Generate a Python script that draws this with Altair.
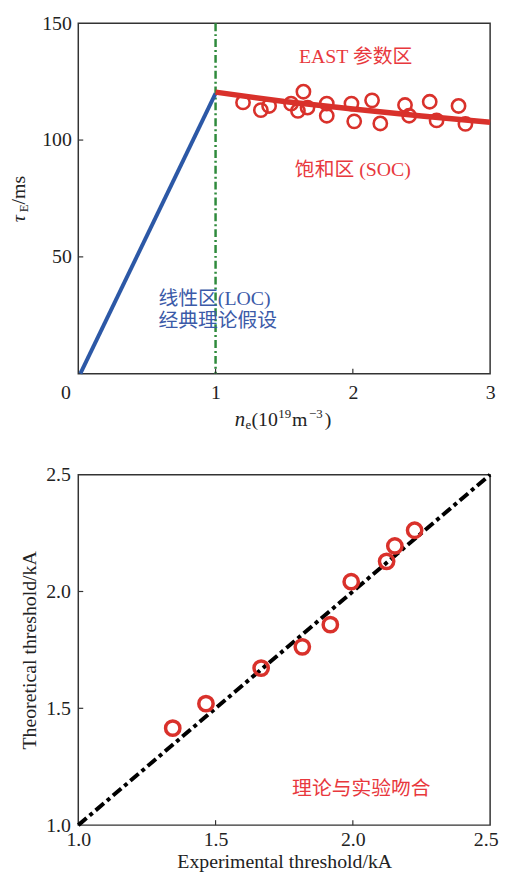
import altair as alt
import pandas as pd

# ---------------- data ----------------
# top panel
lin_n = [0.015, 1.0]
lin_tau = [0.0, 120.0]
fit_n = [1.0, 1.5, 2.0, 2.5, 3.0]
fit_tau = [120.5, 116.5, 113.3, 110.3, 107.6]
east_n = [1.20, 1.33, 1.39, 1.55, 1.64, 1.60, 1.67, 1.81, 1.81, 1.99,
          2.01, 2.14, 2.20, 2.38, 2.41, 2.56, 2.61, 2.77, 2.82]
east_tau = [116.1, 112.8, 114.6, 115.6, 120.7, 112.5, 113.9, 115.6, 110.4, 115.6,
            108.0, 117.0, 107.1, 115.0, 110.4, 116.4, 108.4, 114.6, 106.9]
boundary_n = [1.0]
top_x_ticks = [0, 1, 2, 3]
top_y_ticks = [50, 100, 150]
top_x_inner = [1, 2]
top_y_inner = [50, 100]

# bottom panel
exp_thr = [1.344, 1.465, 1.666, 1.816, 1.918, 1.994, 2.123, 2.153, 2.225]
theo_thr = [1.415, 1.520, 1.672, 1.763, 1.858, 2.042, 2.129, 2.195, 2.262]
diag = [1.0, 2.5]
bot_ticks = [1.0, 1.5, 2.0, 2.5]
bot_inner = [1.5, 2.0]

SERIF = "Liberation Serif"
FONT = "Liberation Serif, Noto Sans CJK SC"
RED = "#d9312b"
RED_TXT = "#e8383d"
BLUE = "#2c58a6"
BLUE_TXT = "#3b5aa8"
GREEN = "#2f8a3c"
INK = "#222222"

W, H = 416, 354

LAB = dict(labelFont=SERIF, labelFontSize=20, labelColor=INK, labelFlush=False,
           labelOverlap=False, ticks=False, domain=False, grid=False)

# ---------------- top panel ----------------
xs = alt.Scale(domain=[0, 3], nice=False, zero=False)
ys = alt.Scale(domain=[0, 150], nice=False)

xax = alt.Axis(values=top_x_ticks, format="d", title=None, labelPadding=9,
               labelAlign={"condition": {"test": "datum.value == 0", "value": "right"}, "value": "center"},
               labelOffset={"condition": {"test": "datum.value == 0", "value": -8}, "value": 0},
               **LAB)
yax = alt.Axis(values=top_y_ticks, format="d", title=None, labelPadding=7, **LAB)

lin_df = pd.DataFrame({"n": lin_n, "tau": lin_tau})
fit_df = pd.DataFrame({"n": fit_n, "tau": fit_tau})
east_df = pd.DataFrame({"n": east_n, "tau": east_tau})

blue_line = alt.Chart(lin_df).mark_line(color=BLUE, strokeWidth=4).encode(
    x=alt.X("n:Q", scale=xs, axis=xax), y=alt.Y("tau:Q", scale=ys, axis=yax))
red_line = alt.Chart(fit_df).mark_line(color=RED, strokeWidth=5.5).encode(
    x=alt.X("n:Q", scale=xs), y=alt.Y("tau:Q", scale=ys))
pts = alt.Chart(east_df).mark_point(shape="circle", filled=False, size=180,
                                    strokeWidth=2.6, color=RED, opacity=1).encode(
    x=alt.X("n:Q", scale=xs), y=alt.Y("tau:Q", scale=ys))
vline = alt.Chart(pd.DataFrame({"n": boundary_n})).mark_rule(
    color=GREEN, strokeWidth=2.5, strokeDash=[8, 3, 2, 3]).encode(x=alt.X("n:Q", scale=xs))

xt = alt.Chart(pd.DataFrame({"v": top_x_inner})).mark_rule(color="#333", strokeWidth=1.2).encode(
    x=alt.X("v:Q", scale=xs), y=alt.value(H), y2=alt.value(H - 5))
yt = alt.Chart(pd.DataFrame({"v": top_y_inner})).mark_rule(color="#333", strokeWidth=1.2).encode(
    y=alt.Y("v:Q", scale=ys), x=alt.value(0), x2=alt.value(5))


def note(df, color, size=20, align="center"):
    return alt.Chart(df).mark_text(font=FONT, fontSize=size, color=color, align=align,
                                   baseline="middle").encode(
        x=alt.X("x:Q", scale=xs), y=alt.Y("y:Q", scale=ys), text="t:N")


notes_top = pd.DataFrame({"t": ["EAST 参数区", "饱和区 (SOC)"], "x": [2.02, 2.0], "y": [135.6, 87.0]})
notes_blue = pd.DataFrame({"t": ["线性区(LOC)", "经典理论假设"], "x": [0.584, 0.584], "y": [32.1, 22.4]})


def piece(text, x, y, size=20, italic=False, angle=0):
    return alt.Chart(pd.DataFrame({"t": [text]})).mark_text(
        font=SERIF, fontSize=size, fontStyle="italic" if italic else "normal",
        align="left", baseline="alphabetic", angle=angle, color=INK).encode(
        x=alt.value(x), y=alt.value(y), text="t:N")


xb = H + 53
xtitle = [
    piece("n", 158, xb, 21, italic=True),
    piece("e", 169, xb + 3, 13),
    piece("(10", 175, xb),
    piece("19", 202, xb - 8, 13),
    piece("m", 216, xb),
    piece("\u22123", 233, xb - 8, 13),
    piece(")", 249, xb),
]
yb = -54
yc = H / 2
ytitle = [
    piece("\u03c4", yb, yc + 24, 20, italic=True, angle=270),
    piece("E", yb + 3, yc + 14, 13, angle=270),
    piece("/ms", yb, yc + 6, 20, angle=270),
]

top = alt.layer(vline, blue_line, red_line, pts, xt, yt,
                note(notes_top, RED_TXT), note(notes_blue, BLUE_TXT, align="left"),
                *xtitle, *ytitle).properties(width=W, height=H)

# ---------------- bottom panel ----------------
xs2 = alt.Scale(domain=[1.0, 2.5], nice=False, zero=False)
ys2 = alt.Scale(domain=[1.0, 2.5], nice=False, zero=False)

thr_df = pd.DataFrame({"exp": exp_thr, "theo": theo_thr})
diag_df = pd.DataFrame({"exp": diag, "theo": diag})

bx_axis = alt.Axis(values=bot_ticks, format=".1f", title="Experimental threshold/kA",
                   labelPadding=5, titlePadding=2,
                   labelAlign={"condition": {"test": "datum.value >= 2.5", "value": "right"}, "value": "center"},
                   labelOffset={"condition": {"test": "datum.value >= 2.5", "value": 8}, "value": 0},
                   titleFont=SERIF, titleFontSize=20, titleFontWeight="normal", titleColor=INK, **LAB)
by_axis = alt.Axis(values=bot_ticks, format=".1f", title="Theoretical threshold/kA",
                   labelPadding=8, titlePadding=6,
                   titleFont=SERIF, titleFontSize=20, titleFontWeight="normal", titleColor=INK, **LAB)

dline = alt.Chart(diag_df).mark_line(color="#000", strokeWidth=4, strokeDash=[11, 4, 4, 4]).encode(
    x=alt.X("exp:Q", scale=xs2, axis=bx_axis),
    y=alt.Y("theo:Q", scale=ys2, axis=by_axis))
pts2 = alt.Chart(thr_df).mark_point(shape="circle", filled=False, size=210, strokeWidth=3.5,
                                    color=RED, opacity=1).encode(
    x=alt.X("exp:Q", scale=xs2), y=alt.Y("theo:Q", scale=ys2))
xt2 = alt.Chart(pd.DataFrame({"v": bot_inner})).mark_rule(color="#333", strokeWidth=1.2).encode(
    x=alt.X("v:Q", scale=xs2), y=alt.value(H), y2=alt.value(H - 5))
yt2 = alt.Chart(pd.DataFrame({"v": bot_inner})).mark_rule(color="#333", strokeWidth=1.2).encode(
    y=alt.Y("v:Q", scale=ys2), x=alt.value(0), x2=alt.value(5))
note2 = alt.Chart(pd.DataFrame({"t": ["理论与实验吻合"], "x": [2.031], "y": [1.156]})).mark_text(
    font=FONT, fontSize=20, color=RED_TXT, baseline="middle").encode(
    x=alt.X("x:Q", scale=xs2), y=alt.Y("y:Q", scale=ys2), text="t:N")

bottom = alt.layer(dline, pts2, xt2, yt2, note2).properties(width=W, height=H)

chart = alt.vconcat(top, bottom, spacing=31).properties(
    padding={"left": 0, "top": 0, "right": 0, "bottom": 0}
).configure(padding={"left": 0, "top": 0, "right": 0, "bottom": 0}).configure_view(
    stroke="#333", strokeWidth=1.5
).configure_axis(
    domain=False, ticks=False, grid=False,
    labelFont=SERIF, labelFontSize=20, labelColor=INK,
    titleFont=SERIF, titleFontSize=20, titleFontWeight="normal", titleColor=INK
)

chart.save("out.html", embed_options={"renderer": "svg", "actions": False})
